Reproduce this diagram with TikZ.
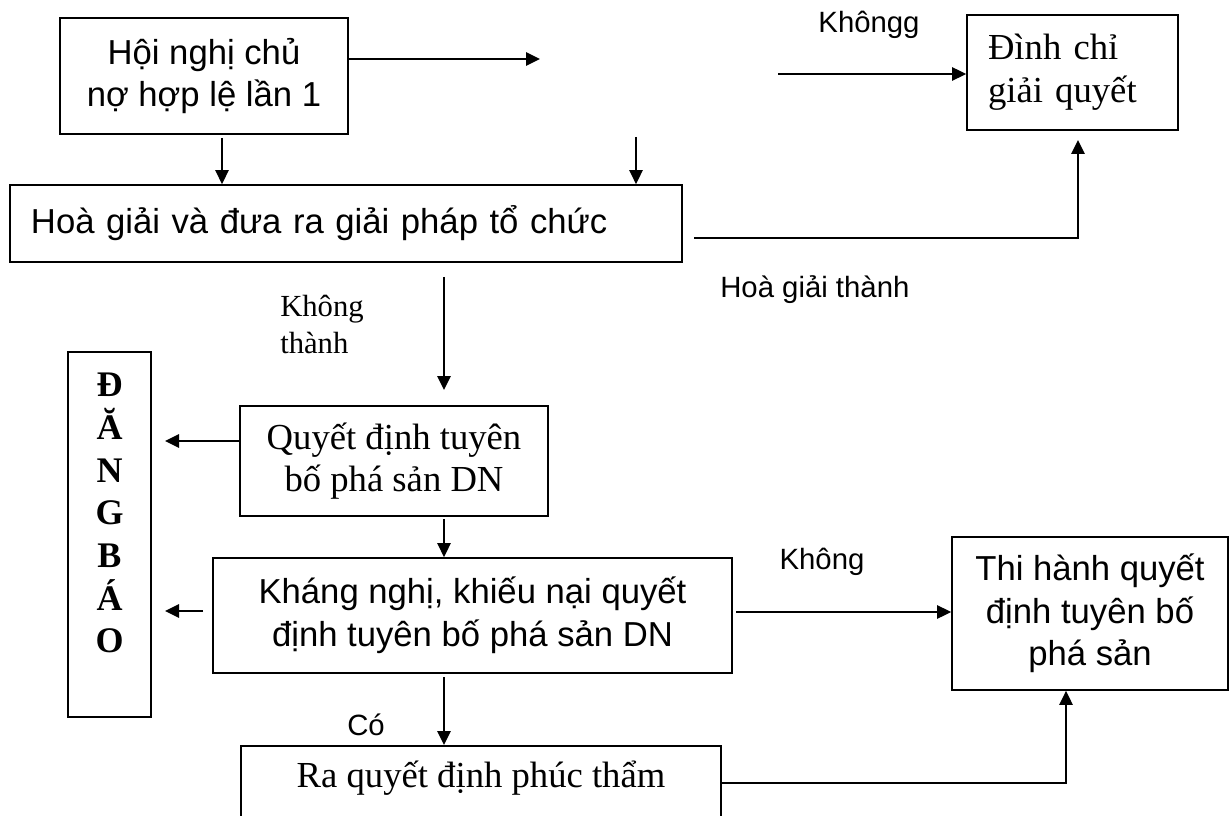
\documentclass[tikz,border=0pt]{standalone}
\usepackage{fontspec}
\setmainfont{Liberation Serif}
\newfontfamily\arialfont{Liberation Sans}
\usetikzlibrary{arrows.meta}

\begin{document}
\begin{tikzpicture}[
  x=0.75pt, y=-0.75pt,
  box/.style={rectangle, draw, line width=1.3pt, inner sep=0pt, align=center},
  sansbox/.style={box, font=\arialfont\fontsize{26}{32}\selectfont},
  serifbox/.style={box, font=\fontsize{27.5}{32}\selectfont},
  arrow/.style={-{Triangle[length=10.5pt, width=10pt]}, line width=1.3pt},
  lbl/.style={font=\arialfont\fontsize{22}{26}\selectfont, inner sep=0pt}
]
  \useasboundingbox (0,0) rectangle (1230,816);

  % Top row
  \node[sansbox, minimum width=216pt, minimum height=87pt] (hoinghi) at (204,76) {Hội nghị chủ\\nợ hợp lệ lần 1};
  \node[serifbox, minimum width=158.25pt, minimum height=86.25pt, text width=126.75pt, align=left] (dinhchi) at (1072.5,72.5) {Đình chỉ\\giải quyết};

  % Conciliation
  \node[sansbox, minimum width=504pt, minimum height=57.75pt, text width=472.5pt, align=left] (hoagiai) at (346,223.5) {Hoà giải và đưa ra giải pháp tổ chức};

  % Left column
  \node[box, font=\bfseries\fontsize{27}{32}\selectfont, minimum width=62.25pt, minimum height=273.75pt] (dangbao) at (109.5,534.5) {Đ\\Ă\\N\\G\\B\\Á\\O\\\mbox{}};

  % Decision chain
  \node[serifbox, minimum width=231pt, minimum height=82.5pt] (quyetdinh) at (394,461) {Quyết định tuyên\\bố phá sản DN};
  \node[sansbox, minimum width=389.25pt, minimum height=86.25pt] (khangnghi) at (472.5,615.5) {Kháng nghị, khiếu nại quyết\\định tuyên bố phá sản DN};
  \node[serifbox, anchor=north, minimum width=360pt, text height=31.5pt, text depth=60pt] (phucthan) at (481,745) {Ra quyết định phúc thẩm};
  \node[sansbox, minimum width=207pt, minimum height=114.75pt] (thihanh) at (1090,613.5) {Thi hành quyết\\định tuyên bố\\phá sản};

  % Free ends
  \coordinate (p1) at (540,59);
  \coordinate (p2) at (222,138);
  \coordinate (p3) at (636,137);
  \coordinate (p4) at (778,74);
  \coordinate (p5) at (694,238);
  \coordinate (p6) at (1078,140);
  \coordinate (p7) at (444,277);
  \coordinate (p8) at (444,390);
  \coordinate (p9) at (165,441);
  \coordinate (p10) at (444,519);
  \coordinate (p11) at (203,611);
  \coordinate (p12) at (165,611);
  \coordinate (p13) at (736,612);
  \coordinate (p14) at (444,677);
  \coordinate (p15) at (1066,783);

  % Labels
  \node[lbl] (khongg) at (869,25) {Khôngg};
  \node[lbl, anchor=west] (thanh) at (720,290) {Hoà giải thành};
  \node[font=\fontsize{23}{28}\selectfont, inner sep=0pt, align=left, anchor=west] (khongthanh) at (280,324.5) {Không\\thành};
  \node[lbl] (co) at (366,725) {Có};
  \node[lbl] (khong) at (822,562) {Không};

  \draw[arrow] (hoinghi.east |- p1) -- (p1);
  \draw[arrow] (p2) -- (p2 |- hoagiai.north);
  \draw[arrow] (p3) -- (p3 |- hoagiai.north);
  \draw[arrow] (p4) -- (dinhchi.west |- p4);
  \draw[arrow] (p5) -| (p6);
  \draw[arrow] (p7) -- (p8);
  \draw[arrow] (quyetdinh.west |- p9) -- (p9);
  \draw[arrow] (p10) -- (p10 |- khangnghi.north);
  \draw[arrow] (p11) -- (p12);
  \draw[arrow] (p13) -- (p13 -| thihanh.west);
  \draw[arrow] (p14) -- (p14 |- phucthan.north);
  \draw[arrow] (phucthan.east |- p15) -- (p15) -- (p15 |- thihanh.south);
\end{tikzpicture}
\end{document}
